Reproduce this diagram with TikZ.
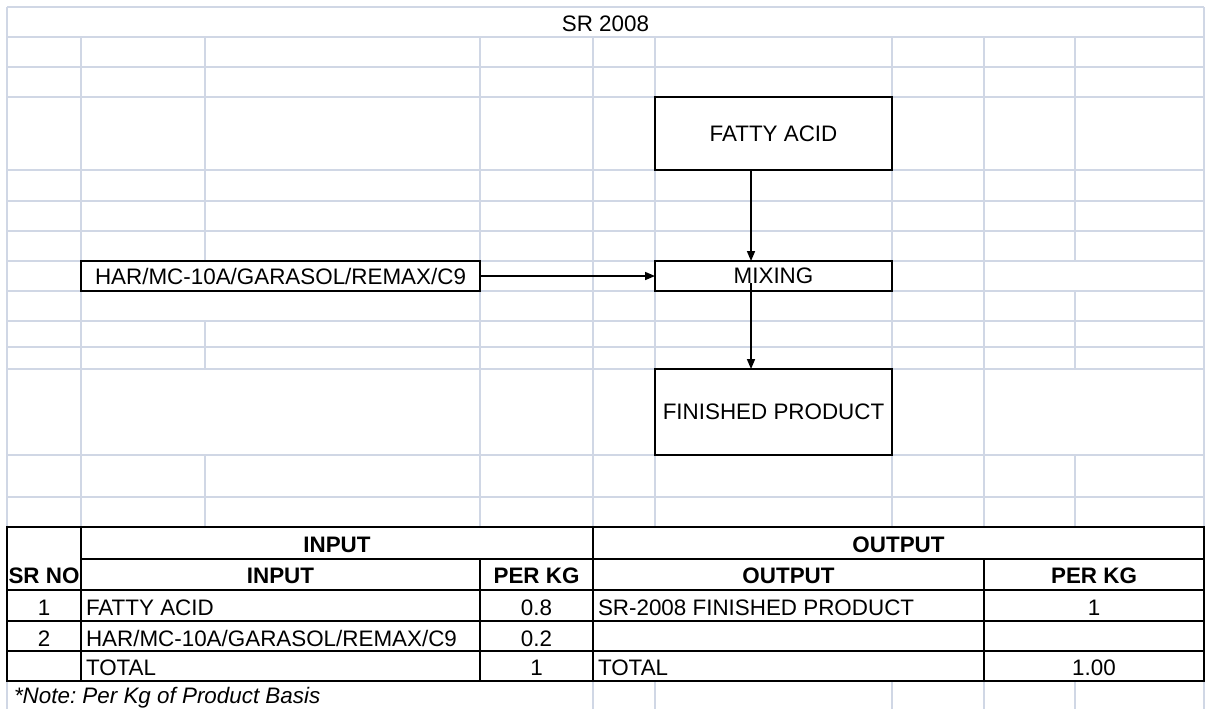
\documentclass[tikz,border=0pt]{standalone}
\usepackage{fontspec}
\setmainfont{Liberation Sans}
\usetikzlibrary{arrows.meta,calc}
\definecolor{gridc}{RGB}{208,215,229}
\frenchspacing
\begin{document}
\begin{tikzpicture}[x=0.5pt,y=-0.5pt,
  every node/.style={font=\fontsize{11.2}{13}\selectfont, inner sep=0pt, outer sep=0pt},
  grid/.style={draw=gridc, line width=0.85pt},
  rule/.style={draw=black, line width=0.85pt},
  boxnode/.style={draw=black, line width=0.9pt, fill=white, minimum width=118.5pt},
  flow/.style={draw=black, line width=0.8pt, -{Triangle[length=5pt,width=4pt]}},
  lbl/.style={anchor=base},
  lbll/.style={anchor=base west},
  hd/.style={anchor=base, font=\fontsize{11.2}{13}\selectfont\bfseries},
]
\useasboundingbox (0,0) rectangle (1208,709);
\fill[white] (0,0) rectangle (1208,709);

% sheet gridlines
\foreach \y in {7,37,67,97,170,201,231,261,291,321,347,369,455,497}
  \draw[grid] (7,\y) -- (1204,\y);
\draw[grid] (7,7) -- (7,709);
\draw[grid] (1204,7) -- (1204,709);
\foreach \x in {81,480,593,655,892,984}
  \draw[grid] (\x,37) -- (\x,527);
\draw[grid] (205,37) -- (205,261) (205,321) -- (205,369) (205,455) -- (205,527);
\draw[grid] (1075,37) -- (1075,261) (1075,291) -- (1075,369) (1075,455) -- (1075,527);
\foreach \x in {593,655,892,984,1075}
  \draw[grid] (\x,681) -- (\x,709);

% title
\node[lbl] (title) at (605.5,31.5) {SR 2008};

% process boxes
\node[boxnode, minimum height=36.5pt] (fa) at (773.5,133.5) {FATTY ACID};
\node[boxnode, minimum height=15pt] (mix) at (773.5,276) {MIXING};
\node[boxnode, minimum height=43pt] (fp) at (773.5,412) {FINISHED PRODUCT};
\node[boxnode, minimum width=199.5pt, minimum height=15pt] (har) at (280.5,276) {HAR/MC-10A/GARASOL/REMAX/C9};

% connectors
\coordinate (ax) at (751,0);
\draw[flow] (fa.south -| ax) -- (mix.north -| ax);
\draw[flow] (har.east) -- (mix.west);
\draw[flow] ($(mix.center -| ax)+(0,7)$) -- (fp.north -| ax);

% balance table
\draw[rule] (7,527) rectangle (1204,681);
\draw[rule] (81,559) -- (1204,559);
\foreach \y in {590,621,651}
  \draw[rule] (7,\y) -- (1204,\y);
\draw[rule] (81,527) -- (81,681);
\draw[rule] (593,527) -- (593,681);
\draw[rule] (480,559) -- (480,681);
\draw[rule] (984,559) -- (984,681);

\node[hd] (tin) at (337,552) {INPUT};
\node[hd] (tout) at (898.5,552) {OUTPUT};
\node[hd] (srno) at (44,583) {SR NO};
\node[hd] (hin) at (280.5,583) {INPUT};
\node[hd] (hpk1) at (536.5,583) {PER KG};
\node[hd] (hout) at (788.5,583) {OUTPUT};
\node[hd] (hpk2) at (1094,583) {PER KG};

\node[lbl] (n1) at (44,615) {1};
\node[lbll] (i1) at (86,615) {FATTY ACID};
\node[lbl] (q1) at (536.5,615) {0.8};
\node[lbll] (o1) at (598,615) {SR-2008 FINISHED PRODUCT};
\node[lbl] (p1) at (1094,615) {1};

\node[lbl] (n2) at (44,646) {2};
\node[lbll] (i2) at (86,646) {HAR/MC-10A/GARASOL/REMAX/C9};
\node[lbl] (q2) at (536.5,646) {0.2};

\node[lbll] (i3) at (86,675) {TOTAL};
\node[lbl] (q3) at (536.5,675) {1};
\node[lbll] (o3) at (598,675) {TOTAL};
\node[lbl] (p3) at (1094,675) {1.00};

\node[lbll, font=\fontsize{11.2}{13}\selectfont\itshape] (note) at (14,703) {*Note: Per Kg of Product Basis};
\end{tikzpicture}
\end{document}
